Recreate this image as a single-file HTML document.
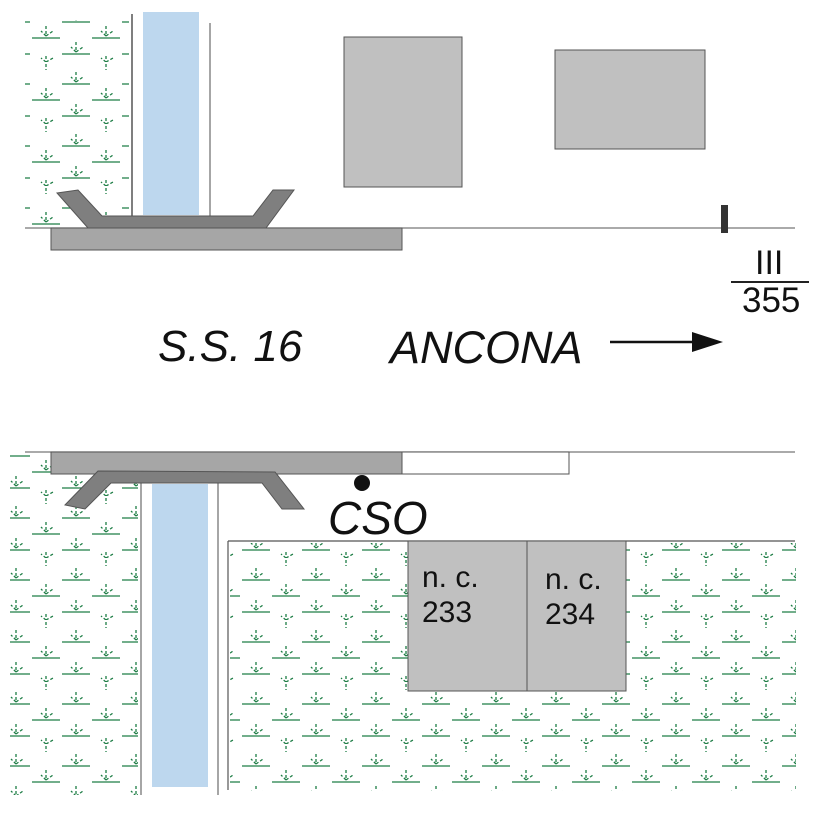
<!DOCTYPE html>
<html><head><meta charset="utf-8"><style>
html,body{margin:0;padding:0;background:#fff;}
svg{display:block;}
text{font-family:"Liberation Sans",sans-serif;fill:#111;}
</style></head><body>
<svg width="827" height="827" viewBox="0 0 827 827" xmlns="http://www.w3.org/2000/svg">
<defs>
<pattern id="g" x="0" y="0" width="60" height="62" patternUnits="userSpaceOnUse">
 <g stroke="#1d7d45" stroke-width="1.3" fill="none">
  <g stroke-dasharray="3,2">
   <path d="M16 10 v10 M16 20 l-5 -5 M16 20 l7 -5"/>
   <path d="M46 26 v10 M46 36 l-5 -5 M46 36 l7 -5"/>
   <path d="M16 42 v10 M16 52 l-5 -5 M16 52 l7 -5"/>
   <path d="M46 56 v6 M46 62 l-5 -4 M46 62 l7 -4"/>
   <path d="M46 2 v6"/>
  </g>
  <path d="M2 22 h28 M32 38 h28 M2 54 h28"/>
 </g>
</pattern>
</defs>
<rect x="25" y="20" width="104" height="206" fill="url(#g)"/>
<rect x="10" y="455" width="128" height="340" fill="url(#g)"/>
<rect x="230" y="543" width="566" height="248" fill="url(#g)"/>

<line x1="132" y1="14" x2="132" y2="228" stroke="#555" stroke-width="1.5"/>
<rect x="143" y="12" width="56" height="203" fill="#bdd7ee"/>
<line x1="210" y1="23" x2="210" y2="228" stroke="#888" stroke-width="1.5"/>
<line x1="25" y1="228" x2="795" y2="228" stroke="#777" stroke-width="1.2"/>
<rect x="51" y="228" width="351" height="22" fill="#a6a6a6" stroke="#555" stroke-width="1"/>
<polygon points="57,193 78,190 102,216 253,216 273,190 294,190 266,228 88,228" fill="#7f7f7f" stroke="#555" stroke-width="1"/>
<rect x="344" y="37" width="118" height="150" fill="#c0c0c0" stroke="#555" stroke-width="1"/>
<rect x="555" y="50" width="150" height="99" fill="#c0c0c0" stroke="#555" stroke-width="1"/>
<rect x="721" y="205" width="7" height="28" fill="#333"/>
<text x="755" y="274" font-size="34">III</text>
<line x1="731" y1="282" x2="809" y2="282" stroke="#222" stroke-width="2"/>
<text x="742" y="312" font-size="35">355</text>

<text x="158" y="361" font-size="44" font-style="italic">S.S. 16</text>
<text x="390" y="363" font-size="45" font-style="italic">ANCONA</text>
<line x1="610" y1="342" x2="700" y2="342" stroke="#111" stroke-width="2.5"/>
<polygon points="723,342 692,332 692,352" fill="#111"/>

<line x1="25" y1="452" x2="795" y2="452" stroke="#777" stroke-width="1.2"/>
<line x1="141" y1="483" x2="141" y2="795" stroke="#888" stroke-width="1.5"/>
<rect x="152" y="484" width="56" height="303" fill="#bdd7ee"/>
<line x1="218" y1="483" x2="218" y2="795" stroke="#888" stroke-width="1.5"/>
<rect x="51" y="452" width="351" height="22" fill="#a6a6a6" stroke="#555" stroke-width="1"/>
<rect x="402" y="452" width="167" height="22" fill="#fff" stroke="#555" stroke-width="1"/>
<polygon points="98,471 275,472 304,509 282,509 262,483 111,483 85,509 65,505" fill="#7f7f7f" stroke="#555" stroke-width="1"/>
<circle cx="362" cy="483" r="8" fill="#111"/>
<text x="328" y="534" font-size="46" font-style="italic">CSO</text>

<line x1="228" y1="541" x2="228" y2="790" stroke="#555" stroke-width="1.2"/>
<line x1="228" y1="541" x2="795" y2="541" stroke="#555" stroke-width="1.2"/>
<rect x="408" y="541" width="119" height="150" fill="#c0c0c0" stroke="#555" stroke-width="1"/>
<rect x="527" y="541" width="99" height="150" fill="#c0c0c0" stroke="#555" stroke-width="1"/>
<text x="422" y="587" font-size="30">n. c.</text>
<text x="422" y="622" font-size="30">233</text>
<text x="545" y="589" font-size="30">n. c.</text>
<text x="545" y="624" font-size="30">234</text>
</svg>
</body></html>
